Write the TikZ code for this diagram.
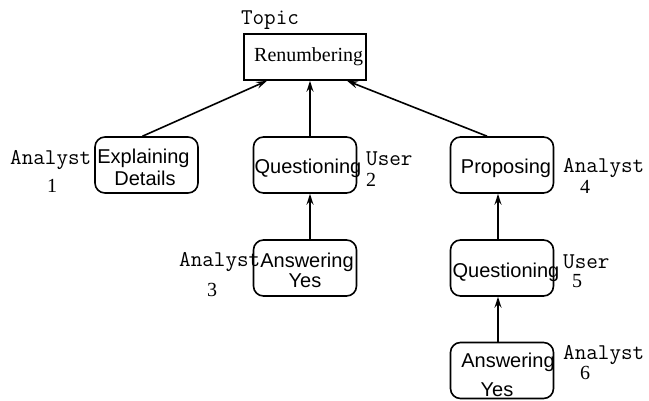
\documentclass[tikz,border=0pt]{standalone}
\usepackage{fontspec}
\setmainfont{Liberation Serif}
\setsansfont{Liberation Sans}
\usetikzlibrary{arrows.meta}

\begin{document}
\begin{tikzpicture}[x=1pt,y=-1pt,
  act/.style={draw, line width=1.6pt, rounded corners=10pt, minimum width=103pt, minimum height=56pt, inner sep=0pt},
  topicbox/.style={draw, line width=1.6pt, minimum width=122pt, minimum height=46pt, inner sep=0pt},
  word/.style={font=\sffamily\fontsize{20}{20}\selectfont, inner sep=0pt},
  role/.style={font=\ttfamily\fontsize{22.5}{22.5}\selectfont, inner sep=0pt},
  num/.style={font=\rmfamily\fontsize{20}{20}\selectfont, inner sep=0pt},
  link/.style={line width=1.6pt, -{Stealth[length=11pt,width=7pt,inset=4pt]}}]

\useasboundingbox (0,0) rectangle (649,400);

% topic box
\node[topicbox] (R) at (305,57) {};
\node[role] (topic) at (270,20) {Topic};
\node[num, anchor=west] (rtxt) at (254,57) {Renumbering};

% activity boxes
\node[act] (E)  at (146.5,165) {};
\node[act] (Q2) at (305,165) {};
\node[act] (P)  at (502,165) {};
\node[act] (A3) at (305,268) {};
\node[act] (Q5) at (502,268) {};
\node[act] (A6) at (502,370.5) {};

% box texts
\node[word] (etxt1) at (143.5,158) {Explaining};
\node[word] (etxt2) at (145,178) {Details};
\node[word] (q2txt) at (308,168) {Questioning};
\node[word] (ptxt)  at (506,168) {Proposing};
\node[word] (a3txt1) at (307,262) {Answering};
\node[word] (a3txt2) at (305,281) {Yes};
\node[word] (q5txt) at (506,272) {Questioning};
\node[word] (a6txt1) at (508,362) {Answering};
\node[word] (a6txt2) at (497,390) {Yes};

% roles and turn numbers
\node[role, anchor=west] (r1) at (10,160) {Analyst};
\node[num] (n1) at (52,186) {1};
\node[role, anchor=west] (r2) at (366,159) {User};
\node[num, anchor=west] (n2) at (366,180) {2};
\node[role, anchor=west] (r3) at (179,262) {Analyst};
\node[num] (n3) at (212,290) {3};
\node[role, anchor=west] (r4) at (563,168) {Analyst};
\node[num] (n4) at (585,187) {4};
\node[role, anchor=west] (r5) at (563,262) {User};
\node[num] (n5) at (577,281) {5};
\node[role, anchor=west] (r6) at (563,355) {Analyst};
\node[num] (n6) at (585,373) {6};

% links
\draw[link] ([xshift=-4pt]E.north) -- ([xshift=-38pt]R.south);
\draw[link] ([xshift=5pt]Q2.north) -- ([xshift=5pt]R.south);
\draw[link] ([xshift=-15pt]P.north) -- ([xshift=42pt]R.south);
\draw[link] ([xshift=5pt]A3.north) -- ([xshift=5pt]Q2.south);
\draw[link] ([xshift=-4pt]Q5.north) -- ([xshift=-4pt]P.south);
\draw[link] ([xshift=-4pt]A6.north) -- ([xshift=-4pt]Q5.south);
\end{tikzpicture}
\end{document}
